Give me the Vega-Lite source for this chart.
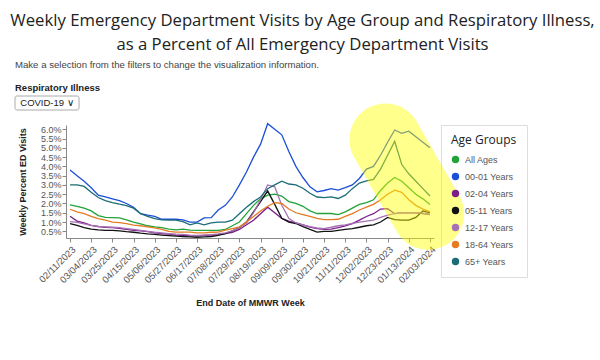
{
  "$schema": "https://vega.github.io/schema/vega-lite/v6.json",
  "padding": {"left": 10, "top": 12, "right": 10, "bottom": 5},
  "background": "white",
  "title": {
    "text": ["Weekly Emergency Department Visits by Age Group and Respiratory Illness,", "as a Percent of All Emergency Department Visits"],
    "anchor": "start",
    "frame": "bounds",
    "align": "center",
    "dx": 288,
    "font": "Open Sans",
    "fontSize": 16.7,
    "fontWeight": "normal",
    "color": "#222222",
    "lineHeight": 24,
    "offset": 7
  },
  "config": {
    "view": {"stroke": null},
    "font": "Liberation Sans",
    "axisY": {"labelOverlap": false}
  },
  "columns": 1,
  "align": "none",
  "spacing": -8,
  "resolve": {"scale": {"color": "independent"}, "legend": {"color": "independent"}},
  "concat": [
    {
      "width": 64,
      "height": 14,
      "title": {
        "text": "Make a selection from the filters to change the visualization information.",
        "subtitle": "Respiratory Illness",
        "anchor": "start",
        "frame": "group",
        "dx": -51,
        "font": "Liberation Sans",
        "fontSize": 9.6,
        "fontWeight": "normal",
        "color": "#444444",
        "subtitleFont": "Liberation Sans",
        "subtitleFontSize": 9.5,
        "subtitleFontWeight": "bold",
        "subtitleColor": "#222222",
        "subtitlePadding": 13,
        "offset": 3
      },
      "data": {"values": [{"label": "COVID-19  ∨"}]},
      "layer": [
        {
          "mark": {"type": "rect", "fill": "white", "stroke": "#aaaaaa", "strokeWidth": 1, "cornerRadius": 2, "xOffset": -51, "x2Offset": -51},
          "encoding": {"x": {"value": 0}, "x2": {"value": "width"}, "y": {"value": 0}, "y2": {"value": "height"}}
        },
        {
          "mark": {"type": "text", "font": "Liberation Sans", "fontSize": 9.5, "color": "#222222", "dx": -51},
          "encoding": {"text": {"field": "label", "type": "nominal"}}
        }
      ]
    },
    {
      "width": 368,
      "height": 113,
      "data": {"values": [
{"week":"2023-02-11","age":"All Ages","pct":1.93},{"week":"2023-02-18","age":"All Ages","pct":1.85},{"week":"2023-02-25","age":"All Ages","pct":1.75},{"week":"2023-03-04","age":"All Ages","pct":1.6},{"week":"2023-03-11","age":"All Ages","pct":1.35},{"week":"2023-03-18","age":"All Ages","pct":1.25},{"week":"2023-03-25","age":"All Ages","pct":1.24},{"week":"2023-04-01","age":"All Ages","pct":1.22},{"week":"2023-04-08","age":"All Ages","pct":1.12},{"week":"2023-04-15","age":"All Ages","pct":1.0},{"week":"2023-04-22","age":"All Ages","pct":0.9},{"week":"2023-04-29","age":"All Ages","pct":0.8},{"week":"2023-05-06","age":"All Ages","pct":0.74},{"week":"2023-05-13","age":"All Ages","pct":0.7},{"week":"2023-05-20","age":"All Ages","pct":0.62},{"week":"2023-05-27","age":"All Ages","pct":0.58},{"week":"2023-06-03","age":"All Ages","pct":0.62},{"week":"2023-06-10","age":"All Ages","pct":0.56},{"week":"2023-06-17","age":"All Ages","pct":0.55},{"week":"2023-06-24","age":"All Ages","pct":0.55},{"week":"2023-07-01","age":"All Ages","pct":0.55},{"week":"2023-07-08","age":"All Ages","pct":0.55},{"week":"2023-07-15","age":"All Ages","pct":0.6},{"week":"2023-07-22","age":"All Ages","pct":0.8},{"week":"2023-07-29","age":"All Ages","pct":1.0},{"week":"2023-08-05","age":"All Ages","pct":1.45},{"week":"2023-08-12","age":"All Ages","pct":1.9},{"week":"2023-08-19","age":"All Ages","pct":2.25},{"week":"2023-08-26","age":"All Ages","pct":2.45},{"week":"2023-09-02","age":"All Ages","pct":2.5},{"week":"2023-09-09","age":"All Ages","pct":2.4},{"week":"2023-09-16","age":"All Ages","pct":2.1},{"week":"2023-09-23","age":"All Ages","pct":2.0},{"week":"2023-09-30","age":"All Ages","pct":1.85},{"week":"2023-10-07","age":"All Ages","pct":1.6},{"week":"2023-10-14","age":"All Ages","pct":1.46},{"week":"2023-10-21","age":"All Ages","pct":1.46},{"week":"2023-10-28","age":"All Ages","pct":1.46},{"week":"2023-11-04","age":"All Ages","pct":1.4},{"week":"2023-11-11","age":"All Ages","pct":1.55},{"week":"2023-11-18","age":"All Ages","pct":1.75},{"week":"2023-11-25","age":"All Ages","pct":1.95},{"week":"2023-12-02","age":"All Ages","pct":2.05},{"week":"2023-12-09","age":"All Ages","pct":2.2},{"week":"2023-12-16","age":"All Ages","pct":2.7},{"week":"2023-12-23","age":"All Ages","pct":3.1},{"week":"2023-12-30","age":"All Ages","pct":3.4},{"week":"2024-01-06","age":"All Ages","pct":3.2},{"week":"2024-01-13","age":"All Ages","pct":2.85},{"week":"2024-01-20","age":"All Ages","pct":2.5},{"week":"2024-01-27","age":"All Ages","pct":2.25},{"week":"2024-02-03","age":"All Ages","pct":1.95},
{"week":"2023-02-11","age":"00-01 Years","pct":3.8},{"week":"2023-02-18","age":"00-01 Years","pct":3.5},{"week":"2023-02-25","age":"00-01 Years","pct":3.2},{"week":"2023-03-04","age":"00-01 Years","pct":2.85},{"week":"2023-03-11","age":"00-01 Years","pct":2.45},{"week":"2023-03-18","age":"00-01 Years","pct":2.35},{"week":"2023-03-25","age":"00-01 Years","pct":2.25},{"week":"2023-04-01","age":"00-01 Years","pct":2.15},{"week":"2023-04-08","age":"00-01 Years","pct":2.0},{"week":"2023-04-15","age":"00-01 Years","pct":1.8},{"week":"2023-04-22","age":"00-01 Years","pct":1.45},{"week":"2023-04-29","age":"00-01 Years","pct":1.37},{"week":"2023-05-06","age":"00-01 Years","pct":1.3},{"week":"2023-05-13","age":"00-01 Years","pct":1.15},{"week":"2023-05-20","age":"00-01 Years","pct":1.15},{"week":"2023-05-27","age":"00-01 Years","pct":1.15},{"week":"2023-06-03","age":"00-01 Years","pct":1.12},{"week":"2023-06-10","age":"00-01 Years","pct":1.0},{"week":"2023-06-17","age":"00-01 Years","pct":1.0},{"week":"2023-06-24","age":"00-01 Years","pct":1.22},{"week":"2023-07-01","age":"00-01 Years","pct":1.24},{"week":"2023-07-08","age":"00-01 Years","pct":1.65},{"week":"2023-07-15","age":"00-01 Years","pct":1.9},{"week":"2023-07-22","age":"00-01 Years","pct":2.35},{"week":"2023-07-29","age":"00-01 Years","pct":3.0},{"week":"2023-08-05","age":"00-01 Years","pct":3.7},{"week":"2023-08-12","age":"00-01 Years","pct":4.5},{"week":"2023-08-19","age":"00-01 Years","pct":5.2},{"week":"2023-08-26","age":"00-01 Years","pct":6.3},{"week":"2023-09-02","age":"00-01 Years","pct":6.0},{"week":"2023-09-09","age":"00-01 Years","pct":5.7},{"week":"2023-09-16","age":"00-01 Years","pct":4.8},{"week":"2023-09-23","age":"00-01 Years","pct":4.0},{"week":"2023-09-30","age":"00-01 Years","pct":3.4},{"week":"2023-10-07","age":"00-01 Years","pct":2.9},{"week":"2023-10-14","age":"00-01 Years","pct":2.63},{"week":"2023-10-21","age":"00-01 Years","pct":2.7},{"week":"2023-10-28","age":"00-01 Years","pct":2.8},{"week":"2023-11-04","age":"00-01 Years","pct":2.72},{"week":"2023-11-11","age":"00-01 Years","pct":2.85},{"week":"2023-11-18","age":"00-01 Years","pct":3.0},{"week":"2023-11-25","age":"00-01 Years","pct":3.35},{"week":"2023-12-02","age":"00-01 Years","pct":3.85},{"week":"2023-12-09","age":"00-01 Years","pct":4.0},{"week":"2023-12-16","age":"00-01 Years","pct":4.6},{"week":"2023-12-23","age":"00-01 Years","pct":5.3},{"week":"2023-12-30","age":"00-01 Years","pct":5.96},{"week":"2024-01-06","age":"00-01 Years","pct":5.78},{"week":"2024-01-13","age":"00-01 Years","pct":5.9},{"week":"2024-01-20","age":"00-01 Years","pct":5.6},{"week":"2024-01-27","age":"00-01 Years","pct":5.3},{"week":"2024-02-03","age":"00-01 Years","pct":5.0},
{"week":"2023-02-11","age":"02-04 Years","pct":1.31},{"week":"2023-02-18","age":"02-04 Years","pct":1.05},{"week":"2023-02-25","age":"02-04 Years","pct":0.95},{"week":"2023-03-04","age":"02-04 Years","pct":0.82},{"week":"2023-03-11","age":"02-04 Years","pct":0.76},{"week":"2023-03-18","age":"02-04 Years","pct":0.72},{"week":"2023-03-25","age":"02-04 Years","pct":0.7},{"week":"2023-04-01","age":"02-04 Years","pct":0.66},{"week":"2023-04-08","age":"02-04 Years","pct":0.6},{"week":"2023-04-15","age":"02-04 Years","pct":0.55},{"week":"2023-04-22","age":"02-04 Years","pct":0.52},{"week":"2023-04-29","age":"02-04 Years","pct":0.48},{"week":"2023-05-06","age":"02-04 Years","pct":0.42},{"week":"2023-05-13","age":"02-04 Years","pct":0.38},{"week":"2023-05-20","age":"02-04 Years","pct":0.35},{"week":"2023-05-27","age":"02-04 Years","pct":0.3},{"week":"2023-06-03","age":"02-04 Years","pct":0.28},{"week":"2023-06-10","age":"02-04 Years","pct":0.25},{"week":"2023-06-17","age":"02-04 Years","pct":0.25},{"week":"2023-06-24","age":"02-04 Years","pct":0.28},{"week":"2023-07-01","age":"02-04 Years","pct":0.3},{"week":"2023-07-08","age":"02-04 Years","pct":0.32},{"week":"2023-07-15","age":"02-04 Years","pct":0.38},{"week":"2023-07-22","age":"02-04 Years","pct":0.45},{"week":"2023-07-29","age":"02-04 Years","pct":0.6},{"week":"2023-08-05","age":"02-04 Years","pct":0.85},{"week":"2023-08-12","age":"02-04 Years","pct":1.1},{"week":"2023-08-19","age":"02-04 Years","pct":1.45},{"week":"2023-08-26","age":"02-04 Years","pct":1.8},{"week":"2023-09-02","age":"02-04 Years","pct":1.5},{"week":"2023-09-09","age":"02-04 Years","pct":1.2},{"week":"2023-09-16","age":"02-04 Years","pct":1.05},{"week":"2023-09-23","age":"02-04 Years","pct":0.95},{"week":"2023-09-30","age":"02-04 Years","pct":0.85},{"week":"2023-10-07","age":"02-04 Years","pct":0.72},{"week":"2023-10-14","age":"02-04 Years","pct":0.65},{"week":"2023-10-21","age":"02-04 Years","pct":0.6},{"week":"2023-10-28","age":"02-04 Years","pct":0.62},{"week":"2023-11-04","age":"02-04 Years","pct":0.7},{"week":"2023-11-11","age":"02-04 Years","pct":0.8},{"week":"2023-11-18","age":"02-04 Years","pct":0.92},{"week":"2023-11-25","age":"02-04 Years","pct":1.1},{"week":"2023-12-02","age":"02-04 Years","pct":1.3},{"week":"2023-12-09","age":"02-04 Years","pct":1.45},{"week":"2023-12-16","age":"02-04 Years","pct":1.7},{"week":"2023-12-23","age":"02-04 Years","pct":1.72},{"week":"2023-12-30","age":"02-04 Years","pct":1.45},{"week":"2024-01-06","age":"02-04 Years","pct":1.5},{"week":"2024-01-13","age":"02-04 Years","pct":1.5},{"week":"2024-01-20","age":"02-04 Years","pct":1.5},{"week":"2024-01-27","age":"02-04 Years","pct":1.45},{"week":"2024-02-03","age":"02-04 Years","pct":1.4},
{"week":"2023-02-11","age":"05-11 Years","pct":0.92},{"week":"2023-02-18","age":"05-11 Years","pct":0.82},{"week":"2023-02-25","age":"05-11 Years","pct":0.7},{"week":"2023-03-04","age":"05-11 Years","pct":0.62},{"week":"2023-03-11","age":"05-11 Years","pct":0.58},{"week":"2023-03-18","age":"05-11 Years","pct":0.55},{"week":"2023-03-25","age":"05-11 Years","pct":0.55},{"week":"2023-04-01","age":"05-11 Years","pct":0.52},{"week":"2023-04-08","age":"05-11 Years","pct":0.48},{"week":"2023-04-15","age":"05-11 Years","pct":0.45},{"week":"2023-04-22","age":"05-11 Years","pct":0.4},{"week":"2023-04-29","age":"05-11 Years","pct":0.36},{"week":"2023-05-06","age":"05-11 Years","pct":0.33},{"week":"2023-05-13","age":"05-11 Years","pct":0.3},{"week":"2023-05-20","age":"05-11 Years","pct":0.27},{"week":"2023-05-27","age":"05-11 Years","pct":0.24},{"week":"2023-06-03","age":"05-11 Years","pct":0.22},{"week":"2023-06-10","age":"05-11 Years","pct":0.2},{"week":"2023-06-17","age":"05-11 Years","pct":0.18},{"week":"2023-06-24","age":"05-11 Years","pct":0.2},{"week":"2023-07-01","age":"05-11 Years","pct":0.22},{"week":"2023-07-08","age":"05-11 Years","pct":0.28},{"week":"2023-07-15","age":"05-11 Years","pct":0.38},{"week":"2023-07-22","age":"05-11 Years","pct":0.52},{"week":"2023-07-29","age":"05-11 Years","pct":0.7},{"week":"2023-08-05","age":"05-11 Years","pct":1.0},{"week":"2023-08-12","age":"05-11 Years","pct":1.55},{"week":"2023-08-19","age":"05-11 Years","pct":2.1},{"week":"2023-08-26","age":"05-11 Years","pct":2.68},{"week":"2023-09-02","age":"05-11 Years","pct":1.95},{"week":"2023-09-09","age":"05-11 Years","pct":1.2},{"week":"2023-09-16","age":"05-11 Years","pct":1.0},{"week":"2023-09-23","age":"05-11 Years","pct":0.92},{"week":"2023-09-30","age":"05-11 Years","pct":0.75},{"week":"2023-10-07","age":"05-11 Years","pct":0.6},{"week":"2023-10-14","age":"05-11 Years","pct":0.46},{"week":"2023-10-21","age":"05-11 Years","pct":0.5},{"week":"2023-10-28","age":"05-11 Years","pct":0.5},{"week":"2023-11-04","age":"05-11 Years","pct":0.55},{"week":"2023-11-11","age":"05-11 Years","pct":0.6},{"week":"2023-11-18","age":"05-11 Years","pct":0.65},{"week":"2023-11-25","age":"05-11 Years","pct":0.72},{"week":"2023-12-02","age":"05-11 Years","pct":0.8},{"week":"2023-12-09","age":"05-11 Years","pct":0.85},{"week":"2023-12-16","age":"05-11 Years","pct":1.0},{"week":"2023-12-23","age":"05-11 Years","pct":1.25},{"week":"2023-12-30","age":"05-11 Years","pct":1.13},{"week":"2024-01-06","age":"05-11 Years","pct":1.1},{"week":"2024-01-13","age":"05-11 Years","pct":1.1},{"week":"2024-01-20","age":"05-11 Years","pct":1.25},{"week":"2024-01-27","age":"05-11 Years","pct":1.6},{"week":"2024-02-03","age":"05-11 Years","pct":1.5},
{"week":"2023-02-11","age":"12-17 Years","pct":1.02},{"week":"2023-02-18","age":"12-17 Years","pct":0.98},{"week":"2023-02-25","age":"12-17 Years","pct":0.9},{"week":"2023-03-04","age":"12-17 Years","pct":0.82},{"week":"2023-03-11","age":"12-17 Years","pct":0.76},{"week":"2023-03-18","age":"12-17 Years","pct":0.74},{"week":"2023-03-25","age":"12-17 Years","pct":0.72},{"week":"2023-04-01","age":"12-17 Years","pct":0.7},{"week":"2023-04-08","age":"12-17 Years","pct":0.65},{"week":"2023-04-15","age":"12-17 Years","pct":0.6},{"week":"2023-04-22","age":"12-17 Years","pct":0.55},{"week":"2023-04-29","age":"12-17 Years","pct":0.5},{"week":"2023-05-06","age":"12-17 Years","pct":0.45},{"week":"2023-05-13","age":"12-17 Years","pct":0.42},{"week":"2023-05-20","age":"12-17 Years","pct":0.38},{"week":"2023-05-27","age":"12-17 Years","pct":0.35},{"week":"2023-06-03","age":"12-17 Years","pct":0.33},{"week":"2023-06-10","age":"12-17 Years","pct":0.3},{"week":"2023-06-17","age":"12-17 Years","pct":0.28},{"week":"2023-06-24","age":"12-17 Years","pct":0.3},{"week":"2023-07-01","age":"12-17 Years","pct":0.32},{"week":"2023-07-08","age":"12-17 Years","pct":0.36},{"week":"2023-07-15","age":"12-17 Years","pct":0.42},{"week":"2023-07-22","age":"12-17 Years","pct":0.52},{"week":"2023-07-29","age":"12-17 Years","pct":0.7},{"week":"2023-08-05","age":"12-17 Years","pct":0.95},{"week":"2023-08-12","age":"12-17 Years","pct":1.5},{"week":"2023-08-19","age":"12-17 Years","pct":2.2},{"week":"2023-08-26","age":"12-17 Years","pct":3.0},{"week":"2023-09-02","age":"12-17 Years","pct":2.9},{"week":"2023-09-09","age":"12-17 Years","pct":1.9},{"week":"2023-09-16","age":"12-17 Years","pct":1.2},{"week":"2023-09-23","age":"12-17 Years","pct":0.95},{"week":"2023-09-30","age":"12-17 Years","pct":0.85},{"week":"2023-10-07","age":"12-17 Years","pct":0.75},{"week":"2023-10-14","age":"12-17 Years","pct":0.68},{"week":"2023-10-21","age":"12-17 Years","pct":0.65},{"week":"2023-10-28","age":"12-17 Years","pct":0.72},{"week":"2023-11-04","age":"12-17 Years","pct":0.8},{"week":"2023-11-11","age":"12-17 Years","pct":0.85},{"week":"2023-11-18","age":"12-17 Years","pct":0.93},{"week":"2023-11-25","age":"12-17 Years","pct":1.0},{"week":"2023-12-02","age":"12-17 Years","pct":1.05},{"week":"2023-12-09","age":"12-17 Years","pct":1.1},{"week":"2023-12-16","age":"12-17 Years","pct":1.25},{"week":"2023-12-23","age":"12-17 Years","pct":1.37},{"week":"2023-12-30","age":"12-17 Years","pct":1.45},{"week":"2024-01-06","age":"12-17 Years","pct":1.5},{"week":"2024-01-13","age":"12-17 Years","pct":1.5},{"week":"2024-01-20","age":"12-17 Years","pct":1.5},{"week":"2024-01-27","age":"12-17 Years","pct":1.48},{"week":"2024-02-03","age":"12-17 Years","pct":1.42},
{"week":"2023-02-11","age":"18-64 Years","pct":1.69},{"week":"2023-02-18","age":"18-64 Years","pct":1.55},{"week":"2023-02-25","age":"18-64 Years","pct":1.45},{"week":"2023-03-04","age":"18-64 Years","pct":1.3},{"week":"2023-03-11","age":"18-64 Years","pct":1.19},{"week":"2023-03-18","age":"18-64 Years","pct":1.1},{"week":"2023-03-25","age":"18-64 Years","pct":1.0},{"week":"2023-04-01","age":"18-64 Years","pct":0.97},{"week":"2023-04-08","age":"18-64 Years","pct":0.92},{"week":"2023-04-15","age":"18-64 Years","pct":0.83},{"week":"2023-04-22","age":"18-64 Years","pct":0.8},{"week":"2023-04-29","age":"18-64 Years","pct":0.74},{"week":"2023-05-06","age":"18-64 Years","pct":0.68},{"week":"2023-05-13","age":"18-64 Years","pct":0.6},{"week":"2023-05-20","age":"18-64 Years","pct":0.5},{"week":"2023-05-27","age":"18-64 Years","pct":0.46},{"week":"2023-06-03","age":"18-64 Years","pct":0.46},{"week":"2023-06-10","age":"18-64 Years","pct":0.46},{"week":"2023-06-17","age":"18-64 Years","pct":0.42},{"week":"2023-06-24","age":"18-64 Years","pct":0.42},{"week":"2023-07-01","age":"18-64 Years","pct":0.45},{"week":"2023-07-08","age":"18-64 Years","pct":0.46},{"week":"2023-07-15","age":"18-64 Years","pct":0.56},{"week":"2023-07-22","age":"18-64 Years","pct":0.65},{"week":"2023-07-29","age":"18-64 Years","pct":0.74},{"week":"2023-08-05","age":"18-64 Years","pct":1.0},{"week":"2023-08-12","age":"18-64 Years","pct":1.3},{"week":"2023-08-19","age":"18-64 Years","pct":1.6},{"week":"2023-08-26","age":"18-64 Years","pct":1.85},{"week":"2023-09-02","age":"18-64 Years","pct":2.05},{"week":"2023-09-09","age":"18-64 Years","pct":2.0},{"week":"2023-09-16","age":"18-64 Years","pct":1.7},{"week":"2023-09-23","age":"18-64 Years","pct":1.5},{"week":"2023-09-30","age":"18-64 Years","pct":1.4},{"week":"2023-10-07","age":"18-64 Years","pct":1.3},{"week":"2023-10-14","age":"18-64 Years","pct":1.2},{"week":"2023-10-21","age":"18-64 Years","pct":1.13},{"week":"2023-10-28","age":"18-64 Years","pct":1.13},{"week":"2023-11-04","age":"18-64 Years","pct":1.15},{"week":"2023-11-11","age":"18-64 Years","pct":1.3},{"week":"2023-11-18","age":"18-64 Years","pct":1.45},{"week":"2023-11-25","age":"18-64 Years","pct":1.65},{"week":"2023-12-02","age":"18-64 Years","pct":1.8},{"week":"2023-12-09","age":"18-64 Years","pct":1.95},{"week":"2023-12-16","age":"18-64 Years","pct":2.2},{"week":"2023-12-23","age":"18-64 Years","pct":2.5},{"week":"2023-12-30","age":"18-64 Years","pct":2.72},{"week":"2024-01-06","age":"18-64 Years","pct":2.6},{"week":"2024-01-13","age":"18-64 Years","pct":2.2},{"week":"2024-01-20","age":"18-64 Years","pct":1.9},{"week":"2024-01-27","age":"18-64 Years","pct":1.7},{"week":"2024-02-03","age":"18-64 Years","pct":1.55},
{"week":"2023-02-11","age":"65+ Years","pct":3.0},{"week":"2023-02-18","age":"65+ Years","pct":3.0},{"week":"2023-02-25","age":"65+ Years","pct":2.92},{"week":"2023-03-04","age":"65+ Years","pct":2.6},{"week":"2023-03-11","age":"65+ Years","pct":2.32},{"week":"2023-03-18","age":"65+ Years","pct":2.15},{"week":"2023-03-25","age":"65+ Years","pct":2.05},{"week":"2023-04-01","age":"65+ Years","pct":1.96},{"week":"2023-04-08","age":"65+ Years","pct":1.88},{"week":"2023-04-15","age":"65+ Years","pct":1.75},{"week":"2023-04-22","age":"65+ Years","pct":1.45},{"week":"2023-04-29","age":"65+ Years","pct":1.3},{"week":"2023-05-06","age":"65+ Years","pct":1.18},{"week":"2023-05-13","age":"65+ Years","pct":1.12},{"week":"2023-05-20","age":"65+ Years","pct":1.1},{"week":"2023-05-27","age":"65+ Years","pct":1.1},{"week":"2023-06-03","age":"65+ Years","pct":1.02},{"week":"2023-06-10","age":"65+ Years","pct":0.85},{"week":"2023-06-17","age":"65+ Years","pct":0.95},{"week":"2023-06-24","age":"65+ Years","pct":0.85},{"week":"2023-07-01","age":"65+ Years","pct":0.95},{"week":"2023-07-08","age":"65+ Years","pct":1.0},{"week":"2023-07-15","age":"65+ Years","pct":1.0},{"week":"2023-07-22","age":"65+ Years","pct":1.1},{"week":"2023-07-29","age":"65+ Years","pct":1.45},{"week":"2023-08-05","age":"65+ Years","pct":1.8},{"week":"2023-08-12","age":"65+ Years","pct":2.1},{"week":"2023-08-19","age":"65+ Years","pct":2.35},{"week":"2023-08-26","age":"65+ Years","pct":2.8},{"week":"2023-09-02","age":"65+ Years","pct":3.0},{"week":"2023-09-09","age":"65+ Years","pct":3.2},{"week":"2023-09-16","age":"65+ Years","pct":3.05},{"week":"2023-09-23","age":"65+ Years","pct":3.0},{"week":"2023-09-30","age":"65+ Years","pct":2.82},{"week":"2023-10-07","age":"65+ Years","pct":2.55},{"week":"2023-10-14","age":"65+ Years","pct":2.35},{"week":"2023-10-21","age":"65+ Years","pct":2.32},{"week":"2023-10-28","age":"65+ Years","pct":2.36},{"week":"2023-11-04","age":"65+ Years","pct":2.27},{"week":"2023-11-11","age":"65+ Years","pct":2.45},{"week":"2023-11-18","age":"65+ Years","pct":2.8},{"week":"2023-11-25","age":"65+ Years","pct":3.1},{"week":"2023-12-02","age":"65+ Years","pct":3.22},{"week":"2023-12-09","age":"65+ Years","pct":3.3},{"week":"2023-12-16","age":"65+ Years","pct":3.85},{"week":"2023-12-23","age":"65+ Years","pct":4.6},{"week":"2023-12-30","age":"65+ Years","pct":5.35},{"week":"2024-01-06","age":"65+ Years","pct":4.1},{"week":"2024-01-13","age":"65+ Years","pct":3.6},{"week":"2024-01-20","age":"65+ Years","pct":3.2},{"week":"2024-01-27","age":"65+ Years","pct":2.8},{"week":"2024-02-03","age":"65+ Years","pct":2.4}
      ]},
      "encoding": {
        "x": {
          "field": "week", "type": "temporal",
          "scale": {"type": "utc", "domain": [{"year": 2023, "month": 2, "date": 7, "utc": true}, {"year": 2024, "month": 2, "date": 7, "utc": true}]},
          "axis": {
            "title": "End Date of MMWR Week",
            "values": [
              {"year": 2023, "month": 2, "date": 11, "utc": true},
              {"year": 2023, "month": 3, "date": 4, "utc": true},
              {"year": 2023, "month": 3, "date": 25, "utc": true},
              {"year": 2023, "month": 4, "date": 15, "utc": true},
              {"year": 2023, "month": 5, "date": 6, "utc": true},
              {"year": 2023, "month": 5, "date": 27, "utc": true},
              {"year": 2023, "month": 6, "date": 17, "utc": true},
              {"year": 2023, "month": 7, "date": 8, "utc": true},
              {"year": 2023, "month": 7, "date": 29, "utc": true},
              {"year": 2023, "month": 8, "date": 19, "utc": true},
              {"year": 2023, "month": 9, "date": 9, "utc": true},
              {"year": 2023, "month": 9, "date": 30, "utc": true},
              {"year": 2023, "month": 10, "date": 21, "utc": true},
              {"year": 2023, "month": 11, "date": 11, "utc": true},
              {"year": 2023, "month": 12, "date": 2, "utc": true},
              {"year": 2023, "month": 12, "date": 23, "utc": true},
              {"year": 2024, "month": 1, "date": 13, "utc": true},
              {"year": 2024, "month": 2, "date": 3, "utc": true}
            ],
            "labelExpr": "utcFormat(datum.value, '%m/%d/%Y')",
            "labelAngle": -45,
            "labelFont": "Liberation Sans",
            "labelFontSize": 9.5,
            "labelColor": "#555555",
            "labelPadding": 2,
            "labelOverlap": false,
            "labelBound": false,
            "tickSize": 4,
            "tickColor": "#888888",
            "domainColor": "#888888",
            "grid": false,
            "titleFont": "Liberation Sans",
            "titleFontSize": 9,
            "titleFontWeight": "bold",
            "titleColor": "#222222",
            "titlePadding": 14
          }
        },
        "y": {
          "field": "pct", "type": "quantitative",
          "scale": {"domain": [0.14, 6.23], "nice": false, "zero": false},
          "axis": {
            "title": "Weekly Percent ED Visits",
            "values": [0.5, 1, 1.5, 2, 2.5, 3, 3.5, 4, 4.5, 5, 5.5, 6],
            "labelExpr": "format(datum.value, '.1f') + '%'",
            "labelOverlap": false,
            "labelFont": "Liberation Sans",
            "labelFontSize": 9,
            "labelColor": "#555555",
            "labelPadding": 1,
            "tickSize": 4,
            "tickColor": "#888888",
            "domainColor": "#888888",
            "grid": false,
            "titleFont": "Liberation Sans",
            "titleFontSize": 9,
            "titleFontWeight": "bold",
            "titleColor": "#222222",
            "titlePadding": 13
          }
        }
      },
      "layer": [
        {
          "mark": {"type": "line", "strokeWidth": 1.3},
          "encoding": {
            "color": {
              "field": "age", "type": "nominal",
              "scale": {
                "domain": ["All Ages", "00-01 Years", "02-04 Years", "05-11 Years", "12-17 Years", "18-64 Years", "65+ Years"],
                "range": ["#22a33a", "#1c4fd8", "#7a1f8a", "#111111", "#a770b5", "#e57a22", "#1b6c76"]
              },
              "legend": {
                "title": "Age Groups\u00a0\u00a0\u00a0\u00a0\u00a0\u00a0\u00a0\u00a0\u00a0\u00a0\u00a0\u00a0\u00a0\u00a0\u00a0\u00a0\u00a0\u00a0\u00a0\u00a0\u00a0\u00a0\u00a0\u00a0\u00a0\u00a0\u00a0\u00a0\u00a0\u00a0\u00a0\u00a0\u00a0\u00a0\u00a0\u00a0",
                "orient": "right",
                "offset": 7,
                "padding": 10,
                "strokeColor": "#dddddd",
                "fillColor": "transparent",
                "titleFont": "Open Sans",
                "titleFontSize": 12,
                "titleFontWeight": "normal",
                "titleColor": "#222222",
                "titlePadding": 8,
                "labelFont": "Liberation Sans",
                "labelFontSize": 9,
                "labelColor": "#555555",
                "labelOffset": 5,
                "symbolType": "circle",
                "symbolSize": 55,
                "rowPadding": 7,
                "encode": {
                  "symbols": {
                    "update": {
                      "fill": {"signal": "{'All Ages':'#22a33a','00-01 Years':'#1c4fd8','02-04 Years':'#7a1f8a','05-11 Years':'#111111','12-17 Years':'#a770b5','18-64 Years':'#e57a22','65+ Years':'#1b6c76'}[datum.value]"},
                      "fillOpacity": {"value": 1},
                      "strokeWidth": {"value": 0}
                    }
                  }
                }
              }
            }
          }
        },
        {
          "data": {"values": [
            {"week": "2024-01-11", "pct": 3.45}
          ]},
          "mark": {
            "type": "point",
            "shape": "M-0.7174,-0.2666 L-0.1324,0.7538 A0.4898,0.4898 0 0 0 0.7174,0.2666 L0.1324,-0.7538 A0.4898,0.4898 0 0 0 -0.7174,-0.2666 Z",
            "size": 21609,
            "filled": true,
            "color": "#ffff00",
            "opacity": 0.45,
            "strokeWidth": 0
          }
        }
      ]
    }
  ]
}
